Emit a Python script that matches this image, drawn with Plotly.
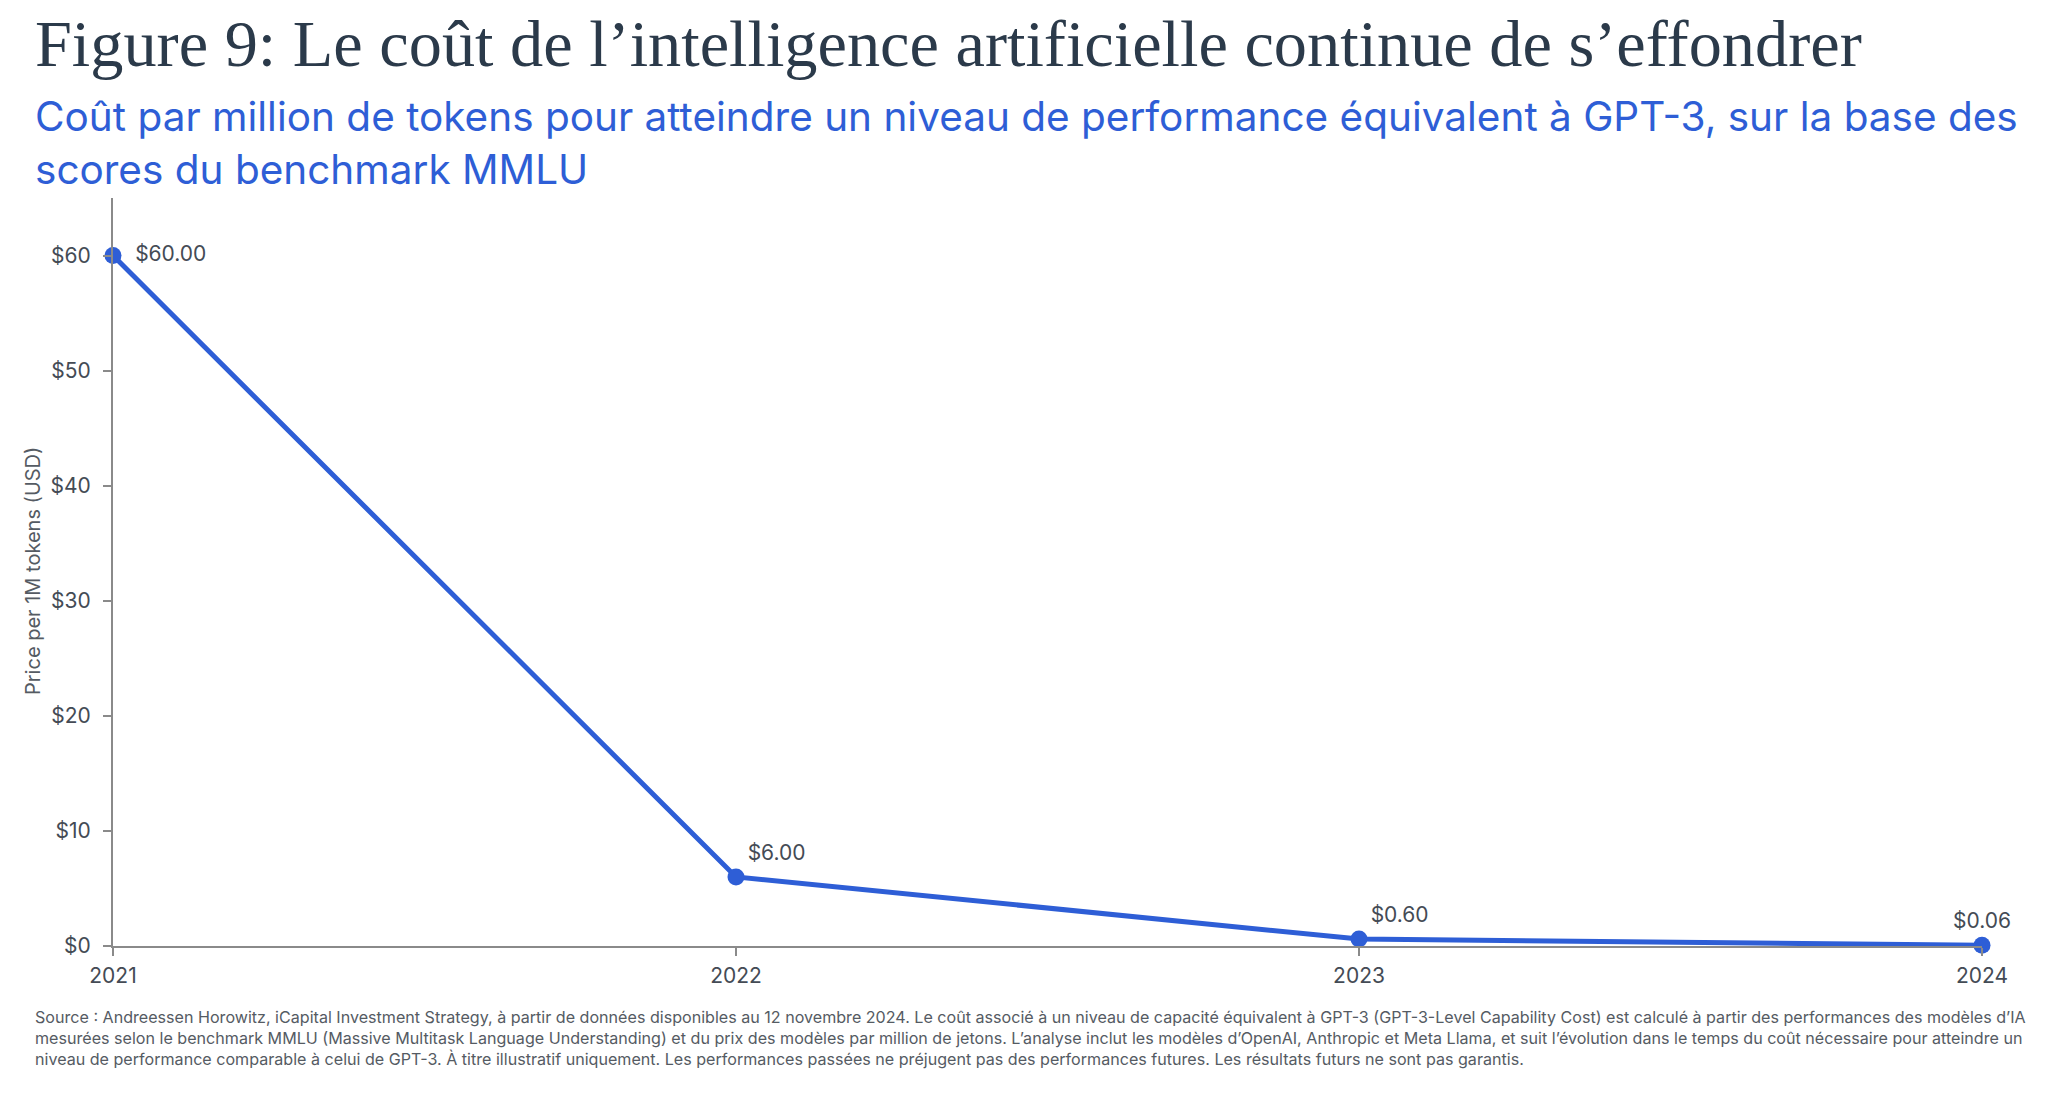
import plotly.graph_objects as go

years = [2021, 2022, 2023, 2024]
prices = [60.0, 6.0, 0.6, 0.06]
label_positions = ["middle right", "top right", "top right", "top center"]
y_ticks = [0, 10, 20, 30, 40, 50, 60]
y_tick_labels = ["$0", "$10", "$20", "$30", "$40", "$50", "$60"]
x_tick_labels = ["2021", "2022", "2023", "2024"]

title_text = "Figure 9: Le coût de l’intelligence artificielle continue de s’effondrer"
subtitle_text = ("Coût par million de tokens pour atteindre un niveau de performance équivalent à GPT-3, sur la base des"
                 "<br>scores du benchmark MMLU")
yaxis_title = "Price per 1M tokens (USD)"
source_text = ("Source : Andreessen Horowitz, iCapital Investment Strategy, à partir de données disponibles au 12 novembre 2024. "
               "Le coût associé à un niveau de capacité équivalent à GPT-3 (GPT-3-Level Capability Cost) est calculé à partir des performances des modèles d’IA"
               "<br>mesurées selon le benchmark MMLU (Massive Multitask Language Understanding) et du prix des modèles par million de jetons. "
               "L’analyse inclut les modèles d’OpenAI, Anthropic et Meta Llama, et suit l’évolution dans le temps du coût nécessaire pour atteindre un"
               "<br>niveau de performance comparable à celui de GPT-3. À titre illustratif uniquement. "
               "Les performances passées ne préjugent pas des performances futures. Les résultats futurs ne sont pas garantis.")

W, H = 2056, 1096
L, R, T, B = 105, 82, 190, 158
pw, ph = W - L - R, H - T - B

def px(x):
    return (x - L) / pw

def py(y):
    return (H - B - y) / ph

BLUE = "#2e5ed6"
SANS = "Inter, 'Noto Sans', sans-serif"
TICK_COLOR = "#444b55"

labels = [f"${v:.2f}" for v in prices]
labels[0] = "\u2002" + labels[0]

fig = go.Figure()
fig.add_trace(go.Scatter(
    x=years, y=prices,
    mode="lines+markers+text",
    line=dict(color=BLUE, width=5),
    marker=dict(color=BLUE, size=17),
    text=labels,
    textposition=label_positions,
    textfont=dict(family=SANS, size=21, color=TICK_COLOR),
    cliponaxis=False,
    hoverinfo="skip",
))

fig.update_layout(
    width=W, height=H,
    margin=dict(l=L, r=R, t=T, b=B),
    paper_bgcolor="white", plot_bgcolor="white",
    showlegend=False,
    xaxis=dict(
        range=[2021, 2024], tickvals=years, ticktext=x_tick_labels,
        showgrid=False, zeroline=False,
        showline=True, linecolor="#8a8a8a", linewidth=2,
        ticks="outside", ticklen=8, tickcolor="#8a8a8a", tickwidth=1.5,
        tickfont=dict(family=SANS, size=21, color=TICK_COLOR),
        ticklabelstandoff=2,
    ),
    yaxis=dict(
        range=[0, 65], tickvals=y_ticks, ticktext=y_tick_labels,
        showgrid=False, zeroline=False,
        showline=True, linecolor="#8a8a8a", linewidth=2,
        ticks="outside", ticklen=8, tickcolor="#8a8a8a", tickwidth=1.5,
        tickfont=dict(family=SANS, size=21, color=TICK_COLOR),
        ticklabelstandoff=8,
    ),
    annotations=[
        dict(text=title_text, xref="paper", yref="paper", x=px(25), y=py(74),
             xanchor="left", yanchor="bottom", showarrow=False,
             font=dict(family="'Liberation Serif', serif", size=66.3, color="#2b3a4a")),
        dict(text=subtitle_text, xref="paper", yref="paper", x=px(25), y=py(82),
             xanchor="left", yanchor="top", align="left", showarrow=False,
             font=dict(family=SANS, size=40.5, color=BLUE)),
        dict(text=yaxis_title, xref="paper", yref="paper", x=px(25), y=py(563),
             xanchor="center", yanchor="middle", textangle=-90, showarrow=False,
             font=dict(family=SANS, size=20, color="#555b63")),
        dict(text=source_text, xref="paper", yref="paper", x=px(25), y=py(997),
             xanchor="left", yanchor="top", align="left", showarrow=False,
             font=dict(family=SANS, size=16.1, color="#555b63")),
    ],
)

fig.write_html("out.html")
